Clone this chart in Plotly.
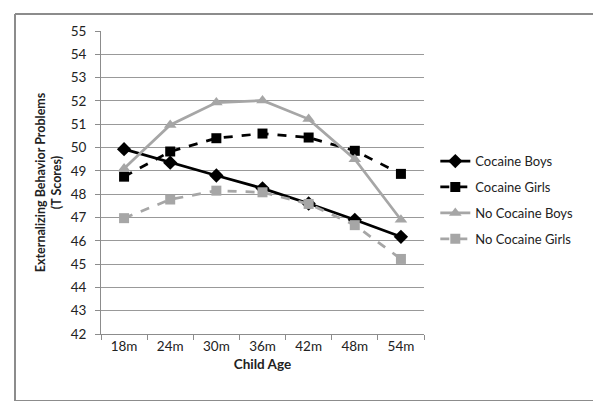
import plotly.graph_objects as go

ages = ["18m", "24m", "30m", "36m", "42m", "48m", "54m"]
cocaine_boys = [49.93, 49.35, 48.8, 48.25, 47.6, 46.9, 46.17]
cocaine_girls = [48.75, 49.83, 50.4, 50.6, 50.43, 49.86, 48.87]
no_cocaine_boys = [49.1, 50.97, 51.93, 52.02, 51.22, 49.5, 46.9]
no_cocaine_girls = [46.97, 47.77, 48.15, 48.08, 47.58, 46.67, 45.22]

BLACK = "#000000"
GRAY = "#a6a6a6"

series = [
    ("Cocaine Boys", cocaine_boys, BLACK, "solid", "diamond", 11),
    ("Cocaine Girls", cocaine_girls, BLACK, "dash", "square", 10),
    ("No Cocaine Boys", no_cocaine_boys, GRAY, "solid", "triangle-up", 11),
    ("No Cocaine Girls", no_cocaine_girls, GRAY, "dash", "square", 10),
]

fig = go.Figure()
for name, vals, col, dash, sym, sz in series:
    fig.add_trace(go.Scatter(
        x=ages, y=vals, name=name, mode="lines+markers",
        line=dict(color=col, width=2.75, dash=dash),
        marker=dict(symbol=sym, size=sz, color=col),
        legendgroup=name,
    ))

FONT = "Lato, Carlito, Calibri, sans-serif"

# outer chart border (paper coords relative to plot area 93..416 x 23..326 px)
bx0, bx1 = (7 - 93) / 323, (593 - 93) / 323
by0, by1 = -(393 - 326) / 303, 1 + (23 - 6) / 303
border = [
    (bx0, by0, bx1, by0), (bx0, by1, bx1, by1),
    (bx0, by0, bx0, by1), (bx1, by0, bx1, by1),
]
shapes = [dict(type="line", xref="paper", yref="paper", x0=a, y0=b, x1=c, y1=d,
               line=dict(color="#8c8c8c", width=2), layer="above")
          for a, b, c, d in border]

fig.update_layout(
    width=601, height=401,
    margin=dict(l=93, r=185, t=23, b=75),
    paper_bgcolor="white", plot_bgcolor="white",
    font=dict(family=FONT, size=12, color="#222222"),
    showlegend=True,
    legend=dict(x=1.035, y=0.62, xanchor="left", yanchor="top",
                font=dict(size=13, color="#222222"),
                tracegroupgap=6, bgcolor="rgba(0,0,0,0)"),
    xaxis=dict(
        type="category", range=[-0.5, 6.5],
        showline=True, linecolor="#8c8c8c", linewidth=1,
        ticks="outside", tickson="boundaries", ticklen=5, tickcolor="#8c8c8c",
        showgrid=False, zeroline=False,
        tickfont=dict(size=13.5, color="#222222"),
        title=dict(text="<b>Child Age</b>", font=dict(size=13.5), standoff=6),
    ),
    yaxis=dict(
        range=[42, 55], dtick=1, tick0=42,
        showline=True, linecolor="#8c8c8c", linewidth=1,
        ticks="outside", ticklen=5, tickcolor="#8c8c8c",
        ticklabelstandoff=6,
        showgrid=True, gridcolor="#999999", gridwidth=1,
        zeroline=False,
        tickfont=dict(size=13.5, color="#222222"),
        title=dict(text="<b>Externalizing Behavior Problems<br>(T Scores)</b>",
                   font=dict(size=12.5), standoff=6),
    ),
    shapes=shapes,
)

fig.write_html("out.html")
